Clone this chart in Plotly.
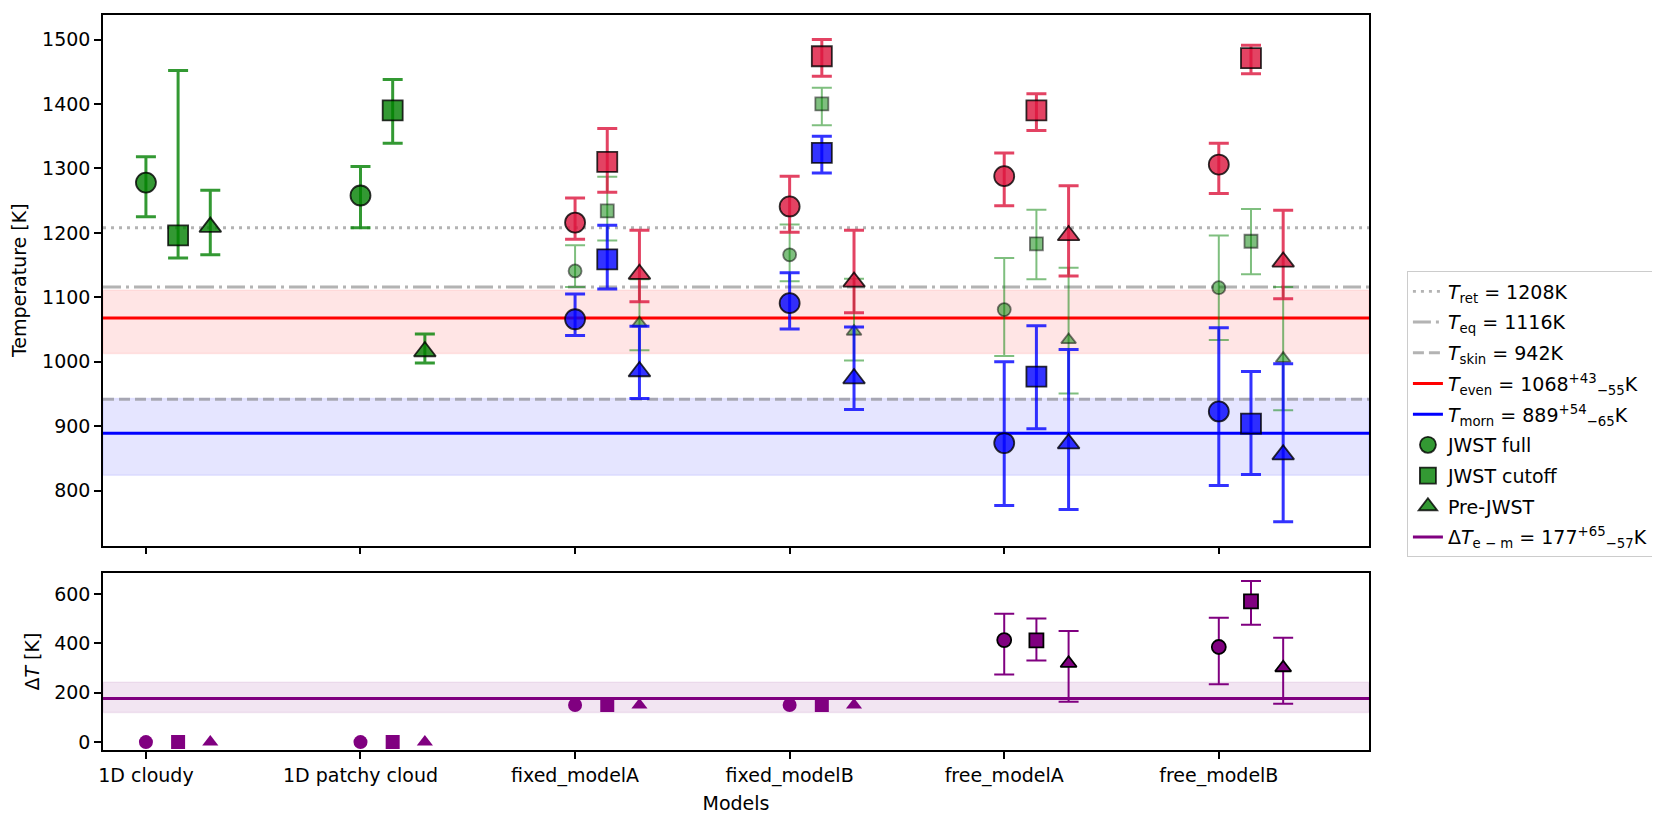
import plotly.graph_objects as go
from plotly.subplots import make_subplots

# ---------------- data ----------------
models = ["1D cloudy", "1D patchy cloud", "fixed_modelA", "fixed_modelB", "free_modelA", "free_modelB"]
dataset_names = ["JWST full", "JWST cutoff", "Pre-JWST"]

# 1D models (first two categories): single temperature
oned_full = [1278, 1258]
oned_full_up = [40, 45]
oned_full_lo = [53, 50]
oned_cut = [1196, 1390]
oned_cut_up = [256, 48]
oned_cut_lo = [35, 51]
oned_pre = [1209, 1016]
oned_pre_up = [57, 27]
oned_pre_lo = [43, 18]

# 2D models (last four categories): evening limb
even_full = [1216, 1241, 1288, 1306]
even_full_up = [38, 47, 36, 33]
even_full_lo = [26, 40, 46, 45]
even_cut = [1310, 1474, 1390, 1471]
even_cut_up = [52, 26, 26, 20]
even_cut_lo = [47, 31, 31, 24]
even_pre = [1136, 1124, 1196, 1155]
even_pre_up = [68, 80, 77, 80]
even_pre_lo = [43, 48, 63, 57]

# morning limb
morn_full = [1066, 1091, 874, 923]
morn_full_up = [39, 47, 126, 130]
morn_full_lo = [25, 40, 97, 115]
morn_cut = [1159, 1324, 977, 904]
morn_cut_up = [53, 26, 79, 81]
morn_cut_lo = [46, 31, 81, 79]
morn_pre = [985, 974, 873, 856]
morn_pre_up = [70, 80, 146, 141]
morn_pre_lo = [42, 48, 102, 104]

# limb-averaged (small green)
avg_full = [1141, 1166, 1081, 1115]
avg_full_up = [40, 47, 80, 81]
avg_full_lo = [25, 41, 72, 81]
avg_cut = [1234, 1400, 1183, 1187]
avg_cut_up = [53, 25, 53, 50]
avg_cut_lo = [46, 33, 55, 51]
avg_pre = [1060, 1047, 1034, 1005]
avg_pre_up = [68, 82, 112, 111]
avg_pre_lo = [42, 45, 83, 80]

# evening - morning difference (all models); None = no error bar
dT_full = [0, 0, 150, 150, 413, 385]
dT_full_up = [None, None, None, None, 107, 118]
dT_full_lo = [None, None, None, None, 139, 151]
dT_cut = [0, 0, 150, 150, 412, 570]
dT_cut_up = [None, None, None, None, 88, 82]
dT_cut_lo = [None, None, None, None, 82, 95]
dT_pre = [0, 0, 150, 150, 319, 301]
dT_pre_up = [None, None, None, None, 131, 121]
dT_pre_lo = [None, None, None, None, 156, 146]

# reference temperatures
T_ret = 1208
T_eq = 1116
T_skin = 942
T_even, T_even_up, T_even_lo = 1068, 43, 55
T_morn, T_morn_up, T_morn_lo = 889, 54, 65
dT_em, dT_em_up, dT_em_lo = 177, 65, 57

# ---------------- styling ----------------
offsets = [0.0, 0.15, 0.3]
symbols = ["circle", "square", "triangle-up"]
big_size = [20, 20, 19]
small_size = [13, 13, 13]
bot_size = [14, 14, 14]

GREEN = "rgba(0,128,0,0.8)"
GREEN_S = "rgba(0,128,0,0.5)"
RED = "rgba(220,20,60,0.8)"
BLUE = "rgba(0,0,255,0.8)"
PURPLE = "#800080"
EDGE = "rgba(0,0,0,0.8)"
EDGE_S = "rgba(0,0,0,0.5)"
GRAY = "rgba(128,128,128,0.6)"
FONT = "DejaVu Sans"
FS = 19

DOT = "3px,5px"
DASHDOT = "18px,5px,3px,5px"
DASH = "11px,5px"

fig = make_subplots(rows=2, cols=1, shared_xaxes=True)


def errbar(up, lo, color, thick):
    return dict(type="data", symmetric=False, array=up, arrayminus=lo,
                color=color, thickness=thick, width=10)


# legend-only entries for reference lines
legend_lines = [
    ("<i>T</i><sub>ret</sub> = %dK" % T_ret, dict(color=GRAY, width=2.9, dash=DOT), 1),
    ("<i>T</i><sub>eq</sub> = %dK" % T_eq, dict(color=GRAY, width=2.9, dash=DASHDOT), 2),
    ("<i>T</i><sub>skin</sub> = %dK" % T_skin, dict(color=GRAY, width=2.9, dash=DASH), 3),
    ("<i>T</i><sub>even</sub> = %d<sup>+%d</sup><sub>−%d</sub>K" % (T_even, T_even_up, T_even_lo),
     dict(color="red", width=3), 4),
    ("<i>T</i><sub>morn</sub> = %d<sup>+%d</sup><sub>−%d</sub>K" % (T_morn, T_morn_up, T_morn_lo),
     dict(color="blue", width=3), 5),
    ("Δ<i>T</i><sub>e − m</sub> = %d<sup>+%d</sup><sub>−%d</sub>K" % (dT_em, dT_em_up, dT_em_lo),
     dict(color=PURPLE, width=3), 9),
]
for name, ln, rank in legend_lines:
    fig.add_trace(go.Scatter(x=[None], y=[None], mode="lines", line=ln, name=name,
                             legendrank=rank, legendgroup="g%d" % rank, showlegend=True), row=1, col=1)

oned = [(oned_full, oned_full_up, oned_full_lo), (oned_cut, oned_cut_up, oned_cut_lo),
        (oned_pre, oned_pre_up, oned_pre_lo)]
avg = [(avg_full, avg_full_up, avg_full_lo), (avg_cut, avg_cut_up, avg_cut_lo),
       (avg_pre, avg_pre_up, avg_pre_lo)]
even = [(even_full, even_full_up, even_full_lo), (even_cut, even_cut_up, even_cut_lo),
        (even_pre, even_pre_up, even_pre_lo)]
morn = [(morn_full, morn_full_up, morn_full_lo), (morn_cut, morn_cut_up, morn_cut_lo),
        (morn_pre, morn_pre_up, morn_pre_lo)]
dts = [(dT_full, dT_full_up, dT_full_lo), (dT_cut, dT_cut_up, dT_cut_lo),
       (dT_pre, dT_pre_up, dT_pre_lo)]

idx_1d = [0, 1]
idx_2d = [2, 3, 4, 5]

for i, name in enumerate(dataset_names):
    off = offsets[i]
    # 1D models, green, with legend
    v, up, lo = oned[i]
    fig.add_trace(go.Scatter(
        x=[k + off for k in idx_1d], y=v, mode="markers", name=name, legendrank=6 + i,
        legendgroup="g%d" % (6 + i),
        marker=dict(symbol=symbols[i], size=big_size[i], color=GREEN, line=dict(color=EDGE, width=1.8)),
        error_y=errbar(up, lo, GREEN, 3)), row=1, col=1)
    # 2D models: limb averaged (small green)
    v, up, lo = avg[i]
    fig.add_trace(go.Scatter(
        x=[k + off for k in idx_2d], y=v, mode="markers", showlegend=False,
        marker=dict(symbol=symbols[i], size=small_size[i], color=GREEN_S, line=dict(color=EDGE_S, width=1.8)),
        error_y=errbar(up, lo, GREEN_S, 2)), row=1, col=1)
    # evening
    v, up, lo = even[i]
    fig.add_trace(go.Scatter(
        x=[k + off for k in idx_2d], y=v, mode="markers", showlegend=False,
        marker=dict(symbol=symbols[i], size=big_size[i], color=RED, line=dict(color=EDGE, width=1.8)),
        error_y=errbar(up, lo, RED, 3)), row=1, col=1)
    # morning
    v, up, lo = morn[i]
    fig.add_trace(go.Scatter(
        x=[k + off for k in idx_2d], y=v, mode="markers", showlegend=False,
        marker=dict(symbol=symbols[i], size=big_size[i], color=BLUE, line=dict(color=EDGE, width=1.8)),
        error_y=errbar(up, lo, BLUE, 3)), row=1, col=1)
    # bottom panel: delta T
    v, up, lo = dts[i]
    no_err = [k for k in range(len(models)) if up[k] is None]
    with_err = [k for k in range(len(models)) if up[k] is not None]
    fig.add_trace(go.Scatter(
        x=[k + off for k in no_err], y=[v[k] for k in no_err], mode="markers", showlegend=False,
        marker=dict(symbol=symbols[i], size=bot_size[i], color=PURPLE, line=dict(width=0))), row=2, col=1)
    fig.add_trace(go.Scatter(
        x=[k + off for k in with_err], y=[v[k] for k in with_err], mode="markers", showlegend=False,
        marker=dict(symbol=symbols[i], size=bot_size[i], color=PURPLE, line=dict(color="black", width=1.8)),
        error_y=errbar([up[k] for k in with_err], [lo[k] for k in with_err], PURPLE, 2)), row=2, col=1)

# bands and reference lines (added after traces so subplots are not empty)
kw = dict(exclude_empty_subplots=False)
fig.add_hrect(y0=T_even - T_even_lo, y1=T_even + T_even_up, row=1, col=1,
              fillcolor="rgba(255,0,0,0.1)", line=dict(color="rgba(255,0,0,0.08)", width=1.5),
              layer="below", **kw)
fig.add_hrect(y0=T_morn - T_morn_lo, y1=T_morn + T_morn_up, row=1, col=1,
              fillcolor="rgba(0,0,255,0.1)", line=dict(color="rgba(0,0,255,0.08)", width=1.5),
              layer="below", **kw)
fig.add_hline(y=T_ret, row=1, col=1, line=dict(color=GRAY, width=2.9, dash=DOT), layer="below", **kw)
fig.add_hline(y=T_eq, row=1, col=1, line=dict(color=GRAY, width=2.9, dash=DASHDOT), layer="below", **kw)
fig.add_hline(y=T_skin, row=1, col=1, line=dict(color=GRAY, width=2.9, dash=DASH), layer="below", **kw)
fig.add_hline(y=T_even, row=1, col=1, line=dict(color="red", width=3), layer="below", **kw)
fig.add_hline(y=T_morn, row=1, col=1, line=dict(color="blue", width=3), layer="below", **kw)
fig.add_hrect(y0=dT_em - dT_em_lo, y1=dT_em + dT_em_up, row=2, col=1,
              fillcolor="rgba(128,0,128,0.1)", line=dict(color="rgba(128,0,128,0.08)", width=1.5),
              layer="below", **kw)
fig.add_hline(y=dT_em, row=2, col=1, line=dict(color=PURPLE, width=3), layer="below", **kw)

axis_style = dict(showline=True, mirror=True, linecolor="black", linewidth=1.5, ticks="outside",
                  ticklen=7, tickwidth=1.5, tickcolor="black", showgrid=False, zeroline=False,
                  tickfont=dict(family=FONT, size=FS, color="black"))

fig.update_xaxes(**axis_style, range=[-0.2, 5.7], tickmode="array",
                 tickvals=list(range(len(models))), ticktext=models)
fig.update_xaxes(showticklabels=False, row=1, col=1)
fig.update_xaxes(title=dict(text="Models", font=dict(family=FONT, size=FS, color="black"), standoff=11),
                 row=2, col=1)
fig.update_yaxes(**axis_style)
fig.update_yaxes(range=[715, 1538], tickmode="array", tickvals=[800, 900, 1000, 1100, 1200, 1300, 1400, 1500],
                 title=dict(text="Temperature [K]", font=dict(family=FONT, size=FS, color="black"), standoff=10),
                 domain=[0.2782, 1.0], row=1, col=1)
fig.update_yaxes(range=[-32, 684], tickmode="array", tickvals=[0, 200, 400, 600],
                 title=dict(text="Δ<i>T</i> [K]", font=dict(family=FONT, size=FS, color="black"), standoff=10),
                 domain=[0.0, 0.2406], row=2, col=1)

# the page body adds an 8px offset, so the figure is sized/margined to compensate
fig.update_layout(
    width=1652, height=816,
    margin=dict(l=95, r=291, t=5, b=74),
    paper_bgcolor="white", plot_bgcolor="white",
    font=dict(family=FONT, size=FS, color="black"),
    legend=dict(x=1.0298, y=0.6513, xanchor="left", yanchor="top",
                bgcolor="rgba(255,255,255,0.8)", bordercolor="#cccccc", borderwidth=1.2,
                font=dict(family=FONT, size=FS, color="black"), traceorder="grouped",
                tracegroupgap=3),
)

fig.write_html("out.html")
